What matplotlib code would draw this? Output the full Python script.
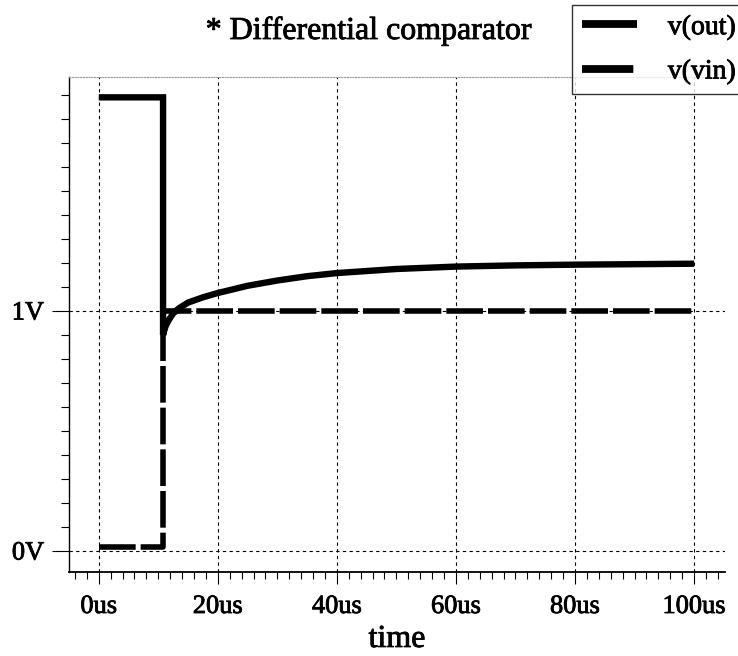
import numpy as np
import matplotlib.pyplot as plt
import matplotlib.patheffects as pe
from matplotlib.ticker import MultipleLocator, FixedLocator

# Transient result of the differential comparator (time in us, volts)
t_out = [0, 10.8, 10.8, 11.2, 11.7, 12.5, 13.5, 15, 17.5, 20, 25, 30, 35, 40, 50, 60, 70,
         80, 90, 100]
v_out = [1.89, 1.89, 0.90, 0.935, 0.96, 0.99, 1.012, 1.035, 1.057, 1.075, 1.105, 1.127,
         1.145, 1.158, 1.175, 1.185, 1.19, 1.193, 1.195, 1.197]

t_vin = [0, 10.8, 10.8, 100]
v_vin = [0.015, 0.015, 1.0, 1.0]

x_major = [0, 20, 40, 60, 80, 100]
x_labels = ["0us", "20us", "40us", "60us", "80us", "100us"]
y_major = [0, 1]
y_labels = ["0V", "1V"]

plt.rcParams["font.family"] = ["Liberation Serif", "DejaVu Serif"]
ink = [pe.withStroke(linewidth=0.6, foreground="black")]

fig = plt.figure(figsize=(7.38, 6.56), dpi=100)
ax = fig.add_axes([69 / 738, 84.3 / 656, 656 / 738, 495 / 656])

ax.set_xlim(-5, 105.2)
ax.set_ylim(-0.086, 1.976)

# grid only at the labelled ticks
for x in x_major:
    ax.axvline(x, color="black", lw=0.8, dashes=(3, 3), zorder=1)
for y in y_major:
    ax.axhline(y, color="black", lw=0.8, dashes=(3, 3), zorder=1)

ax.plot(t_vin, v_vin, color="black", lw=4.0, dashes=(6.6, 0.9),
        solid_capstyle="butt", dash_capstyle="butt", solid_joinstyle="miter",
        label="v(vin)", zorder=3)
ax.plot(t_out, v_out, color="black", lw=4.6, solid_capstyle="butt",
        solid_joinstyle="miter", label="v(out)", zorder=4)

ax.xaxis.set_major_locator(FixedLocator(x_major))
ax.set_xticklabels(x_labels)
ax.xaxis.set_minor_locator(MultipleLocator(2))
ax.yaxis.set_major_locator(FixedLocator(y_major))
ax.set_yticklabels(y_labels)
ax.yaxis.set_minor_locator(FixedLocator([k / 10 for k in range(1, 20) if k != 10]))

ax.tick_params(axis="x", which="major", direction="out", length=8.5, width=0.8,
               labelsize=19, pad=9)
ax.tick_params(axis="x", which="minor", direction="out", length=5, width=0.8)
ax.tick_params(axis="y", which="major", direction="out", length=12, width=0.8,
               labelsize=19, pad=6)
ax.tick_params(axis="y", which="minor", direction="out", length=6, width=0.8)

ax.spines["right"].set_visible(False)
ax.spines["top"].set_color("#999999")
ax.spines["top"].set_linestyle((0, (1, 1.5)))
ax.spines["top"].set_linewidth(0.8)
ax.spines["left"].set_linewidth(1.0)
ax.spines["bottom"].set_linewidth(1.3)

xl = ax.set_xlabel("time", fontsize=23, labelpad=5)
title = fig.text(0.5, 1 - 39 / 656, "* Differential comparator", fontsize=23,
                 ha="center", va="baseline")

handles, labels = ax.get_legend_handles_labels()
leg = fig.legend(handles[::-1], labels[::-1], loc="upper left",
                 bbox_to_anchor=(572 / 738, 1 - 5 / 656), borderaxespad=0,
                 fontsize=20, handlelength=2.0, handletextpad=1.1,
                 borderpad=0.35, labelspacing=0.68, fancybox=False,
                 frameon=True, edgecolor="black")
leg.get_frame().set_linewidth(1.0)
for line in leg.get_lines():
    line.set_linewidth(5.6)

for txt in ax.get_xticklabels() + ax.get_yticklabels() + leg.get_texts() + [xl, title]:
    txt.set_path_effects(ink)

fig.savefig("out.png", dpi=100)
